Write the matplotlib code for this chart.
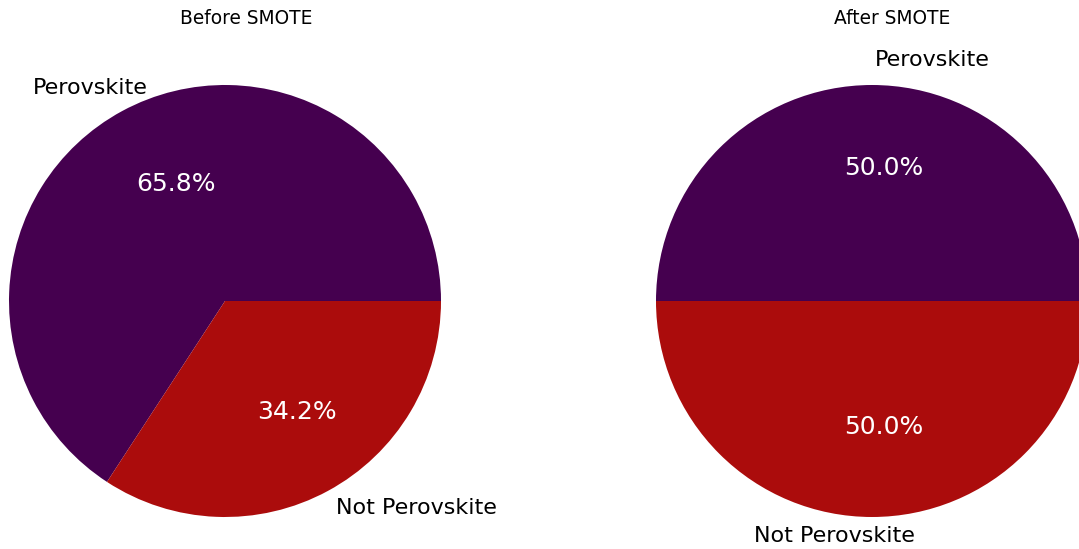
import matplotlib
matplotlib.use("Agg")
import matplotlib.pyplot as plt

labels = ["Perovskite", "Not Perovskite"]
before_pct = [65.8, 34.2]
after_pct = [50.0, 50.0]
titles = ["Before SMOTE", "After SMOTE"]
colors = ["#45004f", "#ab0c0c"]

W, H = 1079, 549
R = 216


def px_to_data(cx, cy, x, y):
    return (x - cx) / R, (cy - y) / R


def draw_pie(fig, cx, cy, sizes, title, title_x, label_pos, pct_pos):
    ax = fig.add_axes([(cx - R) / W, (H - cy - R) / H, 2 * R / W, 2 * R / H])
    wedges, texts, autotexts = ax.pie(
        sizes,
        labels=labels,
        colors=colors,
        autopct="%1.1f%%",
        startangle=0,
        textprops={"fontsize": 16},
    )
    ax.set_xlim(-1, 1)
    ax.set_ylim(-1, 1)
    ax.set_aspect("equal")
    ax.axis("off")
    for t, (x, y) in zip(texts, label_pos):
        t.set_position(px_to_data(cx, cy, x, y))
        t.set_ha("center")
        t.set_va("center")
        t.set_clip_on(False)
    for t, (x, y) in zip(autotexts, pct_pos):
        t.set_position(px_to_data(cx, cy, x, y))
        t.set_color("white")
        t.set_fontsize(18)
    fig.text(title_x / W, 1 - 18 / H, title, ha="center", va="center", fontsize=13.4)


fig = plt.figure(figsize=(W / 100, H / 100), dpi=100)

draw_pie(fig, 225, 301, before_pct, titles[0], 246,
         [(90, 88), (416, 508)], [(176, 184), (297, 412)])
draw_pie(fig, 872, 301, after_pct, titles[1], 892,
         [(932, 60), (834, 536)], [(884, 168), (884, 427)])

fig.savefig("out.png", dpi=100)
